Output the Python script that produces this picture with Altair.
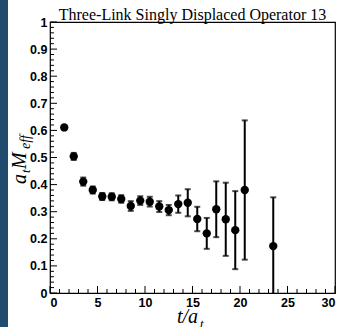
import altair as alt
import pandas as pd

# Effective mass points: time slice, value, statistical error
t_vals = [1.5, 2.5, 3.5, 4.5, 5.5, 6.5, 7.5, 8.5, 9.5, 10.5,
          11.5, 12.5, 13.5, 14.5, 15.5, 16.5, 17.5, 18.5, 19.5, 20.5, 23.5]
m_eff = [0.611, 0.504, 0.411, 0.380, 0.356, 0.355, 0.347, 0.321, 0.341, 0.337,
         0.319, 0.306, 0.328, 0.333, 0.273, 0.220, 0.309, 0.272, 0.232, 0.380, 0.173]
m_err = [0.005, 0.013, 0.015, 0.013, 0.013, 0.013, 0.014, 0.018, 0.016, 0.018,
         0.020, 0.019, 0.032, 0.050, 0.045, 0.057, 0.103, 0.135, 0.144, 0.257, 0.180]

x_major = [0, 5, 10, 15, 20, 25, 30]
y_major = [0, 0.1, 0.2, 0.3, 0.4, 0.5, 0.6, 0.7, 0.8, 0.9, 1]
x_minor = [v for v in range(31) if v % 5]
y_minor = [round(v * 0.02, 2) for v in range(51) if v % 5]

title_text = "Three-Link Singly Displaced Operator 13"

W, H = 285, 271

df = pd.DataFrame({"t": t_vals, "m": m_eff, "e": m_err})
df["lo"] = df["m"] - df["e"]
df["hi"] = df["m"] + df["e"]

xs = alt.Scale(domain=[0, 30], nice=False, zero=False)
ys = alt.Scale(domain=[0, 1], nice=False, zero=False)
xax = alt.Axis(values=x_major, format="~g", title=None, labelPadding=3)
yax = alt.Axis(values=y_major, format="~g", title=None, labelPadding=3)

base = alt.Chart(df)

bars = base.mark_rule(color="black", strokeWidth=2, clip=True).encode(
    x=alt.X("t:Q", scale=xs, axis=xax),
    y=alt.Y("lo:Q", scale=ys, axis=yax),
    y2="hi:Q",
)
cap_hi = base.mark_tick(color="black", orient="horizontal", size=6, thickness=2, clip=True).encode(
    x=alt.X("t:Q", scale=xs, axis=xax),
    y=alt.Y("hi:Q", scale=ys, axis=yax),
)
cap_lo = base.mark_tick(color="black", orient="horizontal", size=6, thickness=2, clip=True).encode(
    x=alt.X("t:Q", scale=xs, axis=xax),
    y=alt.Y("lo:Q", scale=ys, axis=yax),
)
points = base.mark_circle(color="black", size=70, opacity=1).encode(
    x=alt.X("t:Q", scale=xs, axis=xax),
    y=alt.Y("m:Q", scale=ys, axis=yax),
)

# inward-pointing tick marks on the bottom and left edges
def xticks(vals, length):
    return alt.Chart(pd.DataFrame({"v": vals})).mark_rule(color="black", strokeWidth=1).encode(
        x=alt.X("v:Q", scale=xs, axis=xax), y=alt.value(H), y2=alt.value(H - length)
    )

def yticks(vals, length):
    return alt.Chart(pd.DataFrame({"v": vals})).mark_rule(color="black", strokeWidth=1).encode(
        y=alt.Y("v:Q", scale=ys, axis=yax), x=alt.value(0), x2=alt.value(length)
    )

def label(text, x, y, size, align="left", angle=0, italic=True, font="Liberation Serif"):
    return alt.Chart(pd.DataFrame({"s": [text]})).mark_text(
        font=font, fontSize=size, fontStyle="italic" if italic else "normal",
        align=align, baseline="alphabetic", angle=angle, color="black",
    ).encode(text="s:N", x=alt.value(x), y=alt.value(y))

strip = alt.Chart(pd.DataFrame({"a": [0]})).mark_rect(color="#1f4b6e").encode(
    x=alt.value(-50), x2=alt.value(-42), y=alt.value(-22), y2=alt.value(H + 34)
)

title = label(title_text, W / 2, -2, 16, align="center", italic=False)

# x-axis title t/a_t
xt_main = label("t/a", 148, 301, 20, align="right")
xt_sub = label("t", 150, 306, 13)

# y-axis title a_t M_eff, rotated
yt_a = label("a", -24, 162, 20, angle=270)
yt_t = label("t", -20, 151, 13, angle=270)
yt_M = label("M", -24, 147, 20, angle=270)
yt_eff = label("eff", -20, 127, 14, angle=270)

chart = alt.layer(
    strip,
    xticks(x_minor, 4), xticks(x_major, 7),
    yticks(y_minor, 4), yticks(y_major, 7),
    bars, cap_hi, cap_lo, points,
    title, xt_main, xt_sub, yt_a, yt_t, yt_M, yt_eff,
).properties(
    width=W, height=H,
    autosize=alt.AutoSizeParams(type="none"),
    padding={"left": 50, "top": 22, "right": 6, "bottom": 34},
    background="white",
).configure_view(
    stroke="black", strokeWidth=1.2
).configure_axis(
    ticks=False, domain=False, grid=False,
    labelFont="Liberation Sans", labelFontWeight="bold", labelFontSize=12.5,
    labelColor="black",
)

chart.save("out.html", embed_options={"renderer": "svg", "actions": False})
